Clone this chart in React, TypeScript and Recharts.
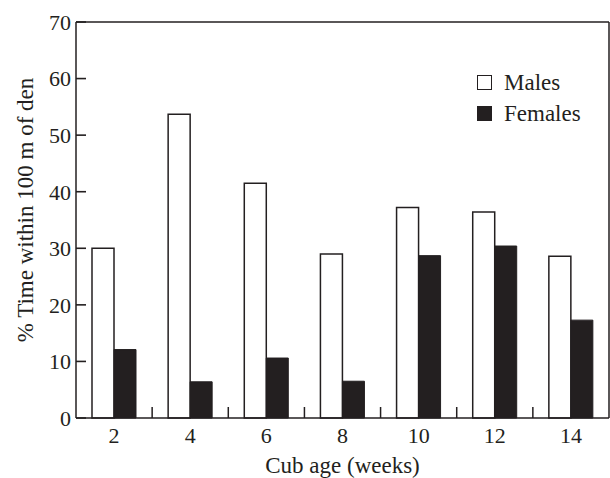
import React from 'react';
import { BarChart, Bar, XAxis, YAxis, Legend, ReferenceLine, Label } from 'recharts';

const ages = ['2', '4', '6', '8', '10', '12', '14'];
const males = [30.0, 53.7, 41.5, 29.0, 37.2, 36.4, 28.6];
const females = [12.1, 6.4, 10.6, 6.5, 28.7, 30.4, 17.3];
const yTicks = [0, 10, 20, 30, 40, 50, 60, 70];
const seriesOrder = ['Males', 'Females'];

const data = ages.map((a, i) => ({ age: a, males: males[i], females: females[i] }));

const INK = '#231f20';
const FONT = '"Liberation Serif", "Times New Roman", serif';

function YTick(props: any) {
  const { x, y, payload } = props;
  const axisX = x + 5;
  return (
    <g>
      <line x1={axisX} x2={axisX + 10} y1={y} y2={y} stroke={INK} strokeWidth={1.6} />
      <text x={x} y={y} dy="0.355em" textAnchor="end" fill={INK} fontSize={22} fontFamily={FONT}>
        {payload.value}
      </text>
    </g>
  );
}

function XTick(props: any) {
  const { x, y, payload, index, visibleTicksCount } = props;
  const axisY = y - 9;
  const off = payload.offset ?? 0;
  return (
    <g>
      {index < visibleTicksCount - 1 && (
        <line x1={x + off} x2={x + off} y1={axisY} y2={axisY - 11} stroke={INK} strokeWidth={1.5} />
      )}
      <text x={x} y={y} dy="0.71em" textAnchor="middle" fill={INK} fontSize={22} fontFamily={FONT}>
        {payload.value}
      </text>
    </g>
  );
}

function LegendContent(props: any) {
  const payload = [...(props.payload || [])].sort(
    (a: any, b: any) => seriesOrder.indexOf(a.value) - seriesOrder.indexOf(b.value)
  );
  return (
    <div style={{ fontFamily: FONT, fontSize: 23, color: INK }}>
      {payload.map((p: any) => (
        <div key={p.value} style={{ display: 'flex', alignItems: 'center', height: 31, lineHeight: '31px' }}>
          <span
            style={{
              display: 'inline-block',
              boxSizing: 'border-box',
              width: 15,
              height: 15,
              border: `1.5px solid ${INK}`,
              background: p.color,
              marginRight: 12,
            }}
          />
          <span>{p.value}</span>
        </div>
      ))}
    </div>
  );
}

function YTitle(props: any) {
  const vb = props.viewBox || { x: 0, y: 0, width: 0, height: 0 };
  const cx = vb.x + 33;
  const cy = vb.y + vb.height / 2 - 10;
  return (
    <text
      x={cx}
      y={cy}
      textAnchor="middle"
      transform={`rotate(-90, ${cx}, ${cy})`}
      fill={INK}
      fontSize={23}
      fontFamily={FONT}
    >
      % Time within 100 m of den
    </text>
  );
}

export default function App() {
  return (
    <div style={{ position: 'absolute', left: 0, top: 0, width: 610, height: 478, background: '#fff' }}>
      <BarChart
        width={610}
        height={478}
        data={data}
        margin={{ top: 22, right: 0, left: 0, bottom: 0 }}
        barGap={0}
      >
        <XAxis
          dataKey="age"
          height={60}
          tickLine={false}
          axisLine={{ stroke: INK, strokeWidth: 1.5 }}
          tick={XTick}
          tickSize={6}
          tickMargin={3}
          interval={0}
        >
          <Label
            value="Cub age (weeks)"
            position="insideBottom"
            offset={5}
            fill={INK}
            fontSize={23}
            fontFamily={FONT}
          />
        </XAxis>
        <YAxis
          width={76}
          domain={[0, 70]}
          ticks={yTicks}
          interval={0}
          tickLine={false}
          axisLine={{ stroke: INK, strokeWidth: 1.5 }}
          tick={YTick}
          tickSize={5}
          tickMargin={0}
        >
          <Label content={YTitle} />
        </YAxis>
        <YAxis
          yAxisId="right"
          orientation="right"
          width={1}
          domain={[0, 70]}
          tick={false}
          tickLine={false}
          axisLine={{ stroke: INK, strokeWidth: 1.5 }}
        />
        <ReferenceLine y={70} stroke={INK} strokeWidth={1.5} />
        <Legend
          layout="vertical"
          align="center"
          verticalAlign="middle"
          wrapperStyle={{ left: 477, top: 67, width: 'auto' }}
          content={LegendContent}
        />
        <Bar
          dataKey="males"
          name="Males"
          fill="#ffffff"
          stroke={INK}
          strokeWidth={1.5}
          barSize={22}
          isAnimationActive={false}
        />
        <Bar
          dataKey="females"
          name="Females"
          fill={INK}
          stroke={INK}
          strokeWidth={1}
          barSize={22}
          isAnimationActive={false}
        />
      </BarChart>
    </div>
  );
}
